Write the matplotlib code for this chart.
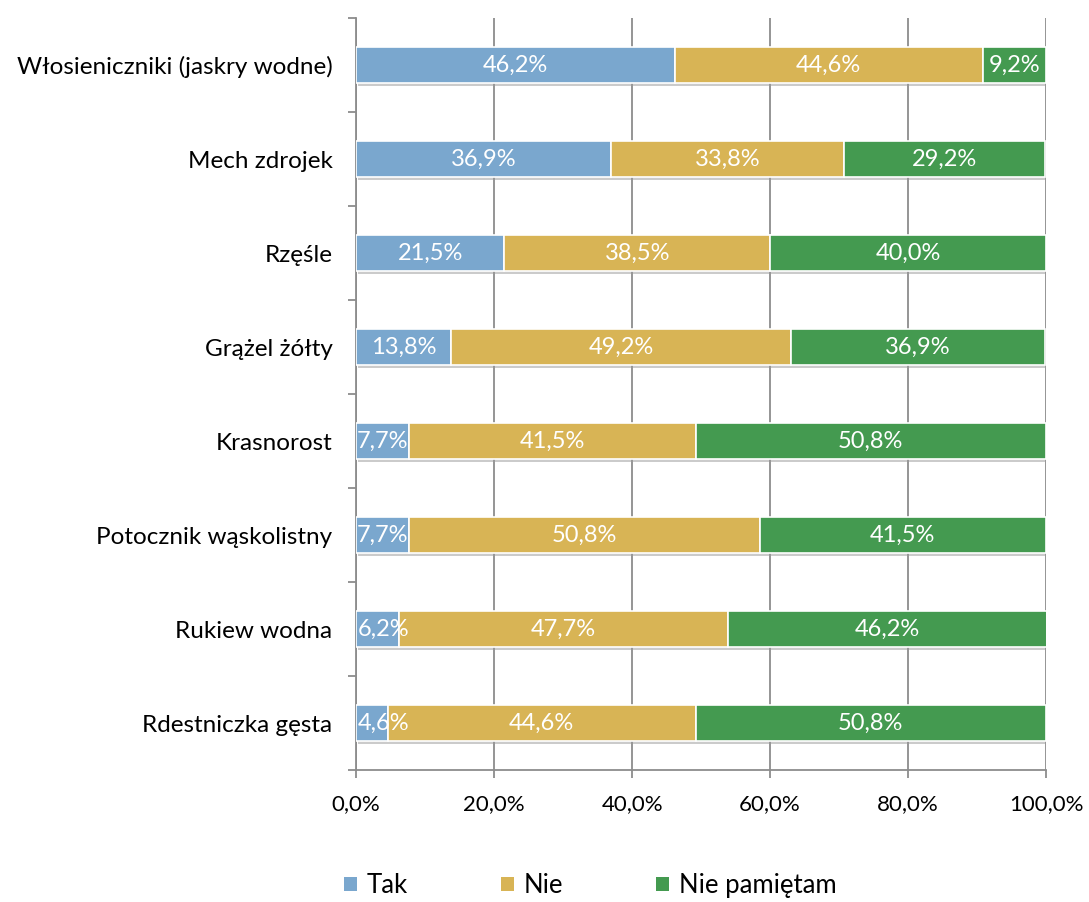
import matplotlib
matplotlib.use("Agg")
import matplotlib.pyplot as plt
import matplotlib.patheffects as pe
from matplotlib.patches import Patch
from matplotlib.ticker import FixedLocator, FuncFormatter
import numpy as np

plt.rcParams['font.family'] = ['Lato', 'DejaVu Sans']

categories = ["Włosieniczniki (jaskry wodne)", "Mech zdrojek", "Rzęśle", "Grążel żółty",
              "Krasnorost", "Potocznik wąskolistny", "Rukiew wodna", "Rdestniczka gęsta"]
tak = [46.2, 36.9, 21.5, 13.8, 7.7, 7.7, 6.2, 4.6]
nie = [44.6, 33.8, 38.5, 49.2, 41.5, 50.8, 47.7, 44.6]
nie_pam = [9.2, 29.2, 40.0, 36.9, 50.8, 41.5, 46.2, 50.8]
series_names = ["Tak", "Nie", "Nie pamiętam"]
colors = ["#7AA7CE", "#D8B455", "#449A50"]
grid_col = "#8C8C8C"

fig = plt.figure(figsize=(10.89, 9.02), dpi=100)
ax = fig.add_axes([0.327, 0.1463, 0.6336, 0.8337])

y = np.arange(len(categories))
left = np.zeros(len(categories))
shadow = [pe.SimplePatchShadow(offset=(1.5, -2.5), shadow_rgbFace="#999999", alpha=0.5), pe.Normal()]
for vals, name, col in zip([tak, nie, nie_pam], series_names, colors):
    vals = np.array(vals)
    bars = ax.barh(y, vals, left=left, height=0.38, color=col, edgecolor="white",
                   linewidth=1.2, label=name, zorder=3)
    for b in bars:
        b.set_path_effects(shadow)
    for yi, l, v in zip(y, left, vals):
        lab = f"{v:.1f}%".replace(".", ",")
        if l + v / 2 < 3.7:
            # label would stick out past the axis: keep it inside like Excel does
            ax.text(0.2, yi, lab, ha="left", va="center", color="white", fontsize=17, zorder=5)
        else:
            ax.text(l + v / 2, yi, lab, ha="center", va="center", color="white", fontsize=17, zorder=5)
    left += vals

ax.set_xlim(0, 100)
ax.set_ylim(len(categories) - 0.5, -0.5)
ax.xaxis.set_major_locator(FixedLocator([0, 20, 40, 60, 80, 100]))
ax.xaxis.set_major_formatter(FuncFormatter(lambda v, p: f"{v:.1f}%".replace(".", ",")))
ax.set_yticks(y)
ax.set_yticklabels(categories)
ax.yaxis.set_minor_locator(FixedLocator(np.arange(-0.5, len(categories), 1)))
ax.tick_params(axis="y", which="major", length=0, pad=17, labelsize=17.5)
ax.tick_params(axis="y", which="minor", length=6, width=1.3, color=grid_col)
ax.tick_params(axis="x", which="major", length=6, width=1.3, color=grid_col, pad=11, labelsize=16)

for s in ["top", "right"]:
    ax.spines[s].set_visible(False)
for s in ["left", "bottom"]:
    ax.spines[s].set_color(grid_col)
    ax.spines[s].set_linewidth(1.3)
ax.grid(axis="x", color=grid_col, linewidth=1.3, zorder=0)
ax.set_axisbelow(True)

handles = [Patch(facecolor=c, edgecolor="none") for c in colors]
fig.legend(handles, series_names, loc="center", bbox_to_anchor=(0.542, 0.018), ncol=3,
           frameon=False, fontsize=18.5, handlelength=0.5, handleheight=0.5,
           handletextpad=0.4, columnspacing=3.6)

fig.savefig("out.png", dpi=100)
